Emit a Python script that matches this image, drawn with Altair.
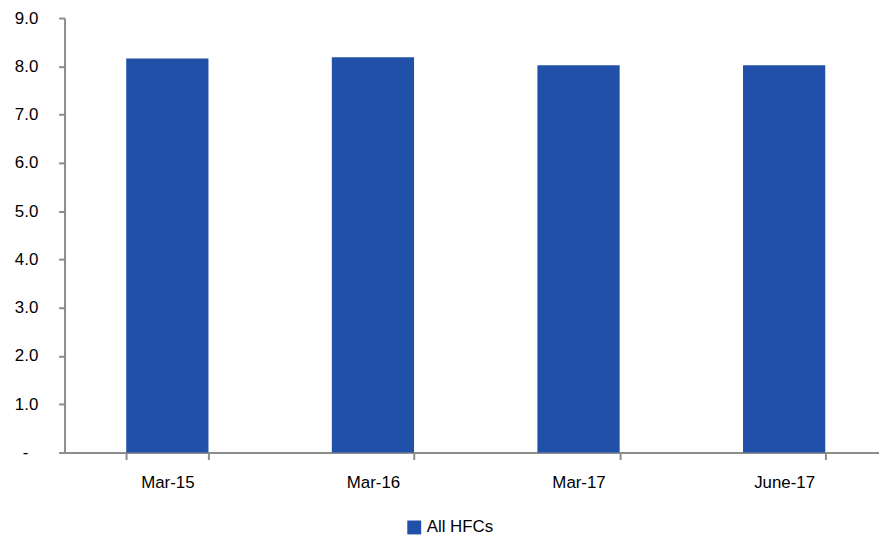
import altair as alt
import pandas as pd

categories = ["Mar-15", "Mar-16", "Mar-17", "June-17"]
values = [8.16, 8.19, 8.02, 8.02]
series = ["All HFCs"] * 4

df = pd.DataFrame({"period": categories, "value": values, "series": series})

FONT = "Liberation Sans"

chart = alt.Chart(df).mark_bar(color="#2050A8").encode(
    x=alt.X("period:N", sort=categories, title=None,
            scale=alt.Scale(paddingInner=0.6, paddingOuter=0.3),
            axis=alt.Axis(labelAngle=0, tickBand="extent", domainColor="#8c8c8c",
                          tickColor="#8c8c8c", domainWidth=2, tickWidth=2, tickSize=7,
                          labelPadding=15, labelFont=FONT, labelFontSize=17,
                          labelColor="#000000")),
    y=alt.Y("value:Q", title=None,
            scale=alt.Scale(domain=[0, 9], nice=False),
            axis=alt.Axis(values=[0, 1, 2, 3, 4, 5, 6, 7, 8, 9], grid=False,
                          labelExpr="datum.value == 0 ? '-' : format(datum.value, '.1f')",
                          domainColor="#8c8c8c", tickColor="#8c8c8c", domainWidth=2,
                          tickWidth=2, tickSize=6,
                          labelPadding={"condition": {"test": "datum.value == 0", "value": 31}, "value": 21},
                          labelFont=FONT, labelFontSize=17, labelColor="#000000")),
    color=alt.Color("series:N", title=None,
                    scale=alt.Scale(range=["#2050A8"]),
                    legend=alt.Legend(orient="none", legendX=344, legendY=505,
                                      symbolType="square", symbolSize=196,
                                      symbolStrokeWidth=0, labelFont=FONT,
                                      labelFontSize=17, labelColor="#000000",
                                      labelOffset=4)),
).properties(
    width=829, height=438,
    autosize=alt.AutoSizeParams(type="none"),
    padding={"left": 57, "top": 8, "right": -8, "bottom": 84},
).configure_view(stroke=None)

chart.save("out.html", embed_options={"renderer": "svg", "actions": False})
